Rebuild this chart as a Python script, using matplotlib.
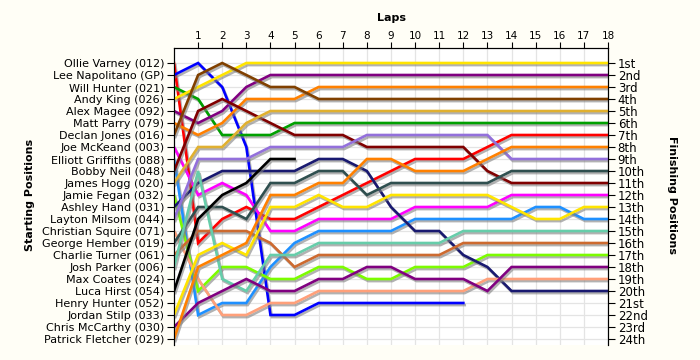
import numpy as np
import matplotlib.pyplot as plt
from matplotlib import patheffects as pe

drivers = ['Ollie Varney (012)', 'Lee Napolitano (GP)', 'Will Hunter (021)', 'Andy King (026)',
           'Alex Magee (092)', 'Matt Parry (079)', 'Declan Jones (016)', 'Joe McKeand (003)',
           'Elliott Griffiths (088)', 'Bobby Neil (048)', 'James Hogg (020)', 'Jamie Fegan (032)',
           'Ashley Hand (031)', 'Layton Milsom (044)', 'Christian Squire (071)', 'George Hember (019)',
           'Charlie Turner (061)', 'Josh Parker (006)', 'Max Coates (024)', 'Luca Hirst (054)',
           'Henry Hunter (052)', 'Jordan Stilp (033)', 'Chris McCarthy (030)', 'Patrick Fletcher (029)']
finish_labels = ['1st', '2nd', '3rd', '4th', '5th', '6th', '7th', '8th', '9th', '10th', '11th', '12th',
                 '13th', '14th', '15th', '16th', '17th', '18th', '19th', '20th', '21st', '22nd', '23rd', '24th']
n_laps = 18

# position at each lap, lap 0 = grid
varney = [1, 16, 14, 13, 14, 14, 13, 12, 11, 10, 9, 9, 9, 8, 7, 7, 7, 7, 7]
napolitano = [2, 1, 3, 8, 22, 22, 21, 21, 21, 21, 21, 21, 21]
w_hunter = [3, 4, 7, 7, 7, 6, 6, 6, 6, 6, 6, 6, 6, 6, 6, 6, 6, 6, 6]
king = [4, 3, 2, 1, 1, 1, 1, 1, 1, 1, 1, 1, 1, 1, 1, 1, 1, 1, 1]
magee = [5, 6, 5, 3, 2, 2, 2, 2, 2, 2, 2, 2, 2, 2, 2, 2, 2, 2, 2]
parry = [6, 7, 6, 4, 4, 4, 3, 3, 3, 3, 3, 3, 3, 3, 3, 3, 3, 3, 3]
jones = [7, 2, 1, 2, 3, 3, 4, 4, 4, 4, 4, 4, 4, 4, 4, 4, 4, 4, 4]
mckeand = [8, 12, 11, 12, 15, 15, 14, 14, 14, 14, 13, 13, 13, 13, 12, 12, 12, 12, 12]
griffiths = [9, 22, 21, 21, 18, 16, 15, 15, 15, 15, 14, 14, 14, 14, 14, 13, 13, 14, 14]
neil = [10, 5, 4, 5, 6, 7, 7, 7, 8, 8, 8, 8, 8, 10, 11, 11, 11, 11, 11]
hogg = [11, 8, 8, 6, 5, 5, 5, 5, 5, 5, 5, 5, 5, 5, 5, 5, 5, 5, 5]
fegan = [12, 20, 18, 18, 19, 19, 18, 18, 19, 19, 18, 18, 18, 17, 17, 17, 17, 17, 17]
hand = [13, 11, 10, 10, 10, 10, 9, 9, 10, 13, 15, 15, 17, 18, 20, 20, 20, 20, 20]
milsom = [14, 9, 9, 9, 8, 8, 8, 8, 7, 7, 7, 7, 7, 7, 9, 9, 9, 9, 9]
squire = [15, 19, 22, 22, 21, 21, 20, 20, 20, 20, 20, 20, 20, 19, 19, 19, 19, 19, 19]
hember = [16, 13, 13, 14, 11, 11, 10, 10, 12, 11, 11, 11, 11, 11, 10, 10, 10, 10, 10]
turner = [17, 15, 15, 15, 16, 18, 17, 17, 17, 17, 17, 17, 16, 16, 16, 16, 16, 16, 16]
parker = [18, 10, 19, 20, 17, 17, 16, 16, 16, 16, 16, 16, 15, 15, 15, 15, 15, 15, 15]
hirst = [20, 14, 12, 11, 9, 9]
stilp = [22, 17, 16, 17, 13, 13, 12, 13, 13, 12, 12, 12, 12, 12, 13, 14, 14, 13, 13]
mccarthy = [23, 21, 20, 19, 20, 20, 19, 19, 18, 18, 19, 19, 19, 20, 18, 18, 18, 18, 18]
fletcher = [24, 18, 17, 16, 12, 12, 11, 11, 9, 9, 10, 10, 10, 9, 8, 8, 8, 8, 8]

lines = [
    (varney, '#FF0000'), (napolitano, '#0000FF'), (w_hunter, '#00A000'), (king, '#FFE400'),
    (magee, '#800080'), (parry, '#FF8000'), (jones, '#804000'), (mckeand, '#FF00FF'),
    (griffiths, '#1E90FF'), (neil, '#800000'), (hogg, '#E0B030'), (fegan, '#7CFC00'),
    (hand, '#191970'), (milsom, '#9370DB'), (squire, '#FFA07A'), (hember, '#2F4F4F'),
    (turner, '#CD6A30'), (parker, '#66CDAA'), (hirst, '#000000'), (stilp, '#FFE400'),
    (mccarthy, '#800080'), (fletcher, '#FF8000'),
]

fig = plt.figure(figsize=(7, 3.6), dpi=100, facecolor='#FFFEF6')
ax = fig.add_axes([174/700, 1-345/360, 434/700, 297/360])
ax.set_facecolor('white')

shadow = [pe.SimpleLineShadow(offset=(1, -1.5), shadow_color='#808080', alpha=0.6), pe.Normal()]
for pos, col in lines:
    ax.plot(range(len(pos)), pos, color=col, lw=1.9, solid_joinstyle='miter',
            path_effects=shadow, zorder=3)

ax.set_xlim(0, n_laps)
ax.set_ylim(24.5, -0.25)
ax.set_xticks(range(1, n_laps + 1))
ax.xaxis.tick_top()
ax.tick_params(axis='x', direction='out', length=4, labelsize=7.5, pad=1)
ax.set_yticks(range(1, 25))
ax.set_yticklabels(drivers, fontsize=8)
ax.tick_params(axis='y', direction='out', length=5, pad=2)
ax.grid(True, color='#E4E4E4', lw=0.9, zorder=0)
ax.set_axisbelow(True)
ax.spines['bottom'].set_visible(False)

ax2 = ax.twinx()
ax2.set_ylim(24.5, -0.25)
ax2.set_yticks(range(1, 25))
ax2.set_yticklabels(finish_labels, fontsize=8.5)
ax2.tick_params(axis='y', direction='out', length=5, pad=2)
ax2.spines['bottom'].set_visible(False)

fig.text(391/700, 1-18/360, 'Laps', ha='center', va='center', fontsize=8, fontweight='bold')
fig.text(30/700, 1-195/360, 'Starting Positions', ha='center', va='center', rotation=90,
         fontsize=8, fontweight='bold')
fig.text(672/700, 1-195/360, 'Finishing Positions', ha='center', va='center', rotation=-90,
         fontsize=8, fontweight='bold')

fig.savefig('out.png', dpi=100, facecolor=fig.get_facecolor())
